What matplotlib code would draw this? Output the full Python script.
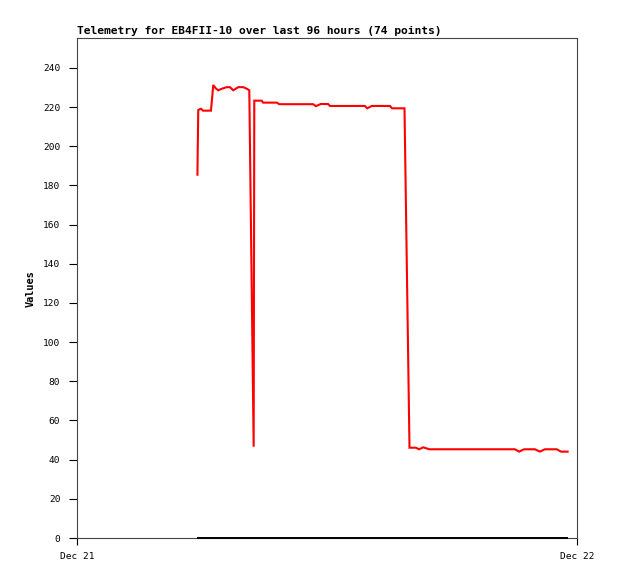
import matplotlib
matplotlib.use("Agg")
import matplotlib.pyplot as plt

# Data: hours after Dec 21 00:00 and telemetry values
red_hours = [5.78, 5.82, 5.95, 6.05, 6.43, 6.48, 6.54, 6.67, 6.78, 6.95,
             7.19, 7.34, 7.50, 7.74, 7.98, 8.15, 8.27, 8.48, 8.51, 8.87,
             8.93, 9.60, 9.70, 11.33, 11.47, 11.70, 12.05, 12.14, 13.82,
             13.93, 14.15, 15.02, 15.12, 15.72, 15.96, 16.27, 16.42, 16.62,
             16.91, 21.02, 21.22, 21.46, 21.98, 22.22, 22.46, 23.03, 23.23,
             23.55]
red_values = [185.5, 218.5, 219.2, 218.2, 218.2, 224.0, 231.3, 229.5, 228.6,
              229.4, 230.2, 230.2, 228.6, 230.2, 230.2, 229.4, 228.6, 46.6,
              223.3, 223.3, 222.3, 222.3, 221.5, 221.5, 220.5, 221.6, 221.6,
              220.6, 220.6, 219.4, 220.6, 220.6, 219.4, 219.4, 46.1, 46.1,
              45.3, 46.3, 45.3, 45.3, 44.1, 45.3, 45.3, 44.1, 45.3, 45.3,
              44.1, 44.1]
black_hours = [5.78, 23.55]
black_values = [0, 0]

y_ticks = list(range(0, 241, 20))
x_ticks = [0, 24]
x_tick_labels = ["Dec 21", "Dec 22"]
title = "Telemetry for EB4FII-10 over last 96 hours (74 points)"

W, H = 618, 579
fig = plt.figure(figsize=(W / 100, H / 100), dpi=100)
ax = fig.add_axes([77 / W, (H - 538) / H, 500 / W, 500 / H])

ax.plot(black_hours, black_values, color="black", lw=1.4, zorder=4,
        clip_on=False, solid_capstyle="butt")
ax.plot(red_hours, red_values, color="#ff0000", lw=1.5, zorder=3,
        solid_joinstyle="miter")

ax.set_xlim(0, 24)
ax.set_ylim(0, 255.3)
ax.set_yticks(y_ticks)
ax.set_xticks(x_ticks)
ax.set_xticklabels(x_tick_labels)

mono = "DejaVu Sans Mono"
for lab in ax.get_yticklabels() + ax.get_xticklabels():
    lab.set_fontfamily(mono)
    lab.set_fontsize(6.8)

ax.tick_params(axis="y", direction="out", length=6, width=0.8, pad=6,
               color="black")
ax.tick_params(axis="x", direction="out", length=5, width=0.8, pad=5,
               color="black")
for s in ax.spines.values():
    s.set_color("#444444")
    s.set_linewidth(0.8)

fig.text(77 / W, 1 - 31 / H, title, fontfamily=mono, fontweight="bold",
         fontsize=8.1, ha="left", va="center")
fig.text(31 / W, 1 - 289 / H, "Values", fontfamily=mono, fontweight="bold",
         fontsize=7.4, rotation=90, ha="center", va="center")

fig.savefig("out.png", dpi=100)
